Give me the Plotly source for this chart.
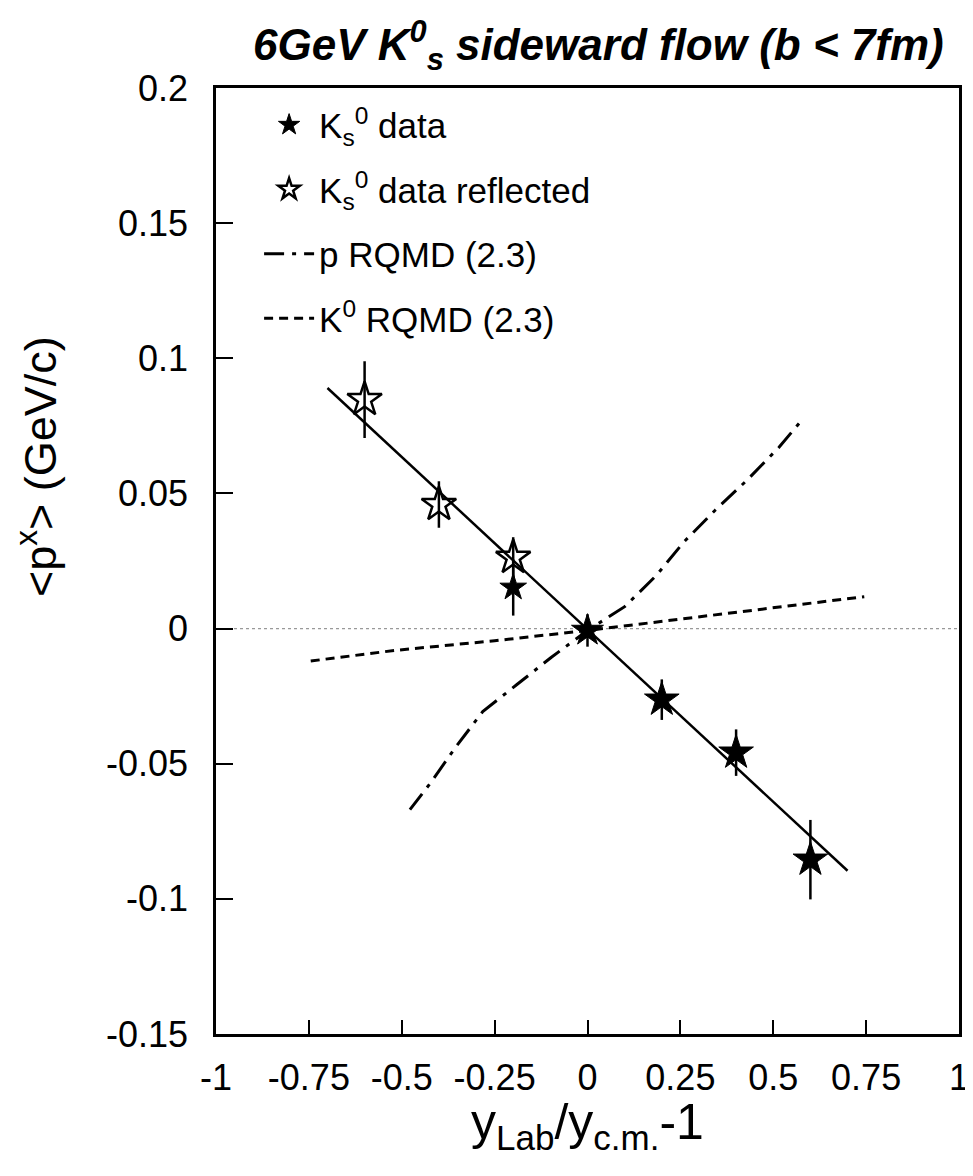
import plotly.graph_objects as go

# ---- data ----
data_x = [-0.2, 0.0, 0.2, 0.4, 0.6]
data_y = [0.0152, -0.0007, -0.0263, -0.0459, -0.0855]
data_err = [0.0104, 0.006, 0.0075, 0.0086, 0.0147]

refl_x = [-0.6, -0.4, -0.2]
refl_y = [0.0847, 0.0459, 0.0263]
refl_err = [0.0142, 0.0086, 0.0075]

fit_x = [-0.70, 0.70]
fit_y = [0.089, -0.0896]

p_x = [-0.478, -0.422, -0.354, -0.282, -0.19, -0.098, 0.0, 0.1, 0.185, 0.259, 0.343, 0.43, 0.515, 0.57]
p_y = [-0.067, -0.057, -0.0437, -0.0307, -0.0207, -0.0107, -0.0007, 0.0081, 0.0196, 0.032, 0.0437, 0.055, 0.067, 0.076]

k_x = [-0.745, -0.52, -0.25, 0.0, 0.25, 0.5, 0.745]
k_y = [-0.012, -0.0081, -0.0045, -0.0007, 0.0035, 0.0078, 0.0118]

x_ticks = [-1, -0.75, -0.5, -0.25, 0, 0.25, 0.5, 0.75, 1]
x_ticktext = ["-1", "-0.75", "-0.5", "-0.25", "0", "0.25", "0.5", "0.75", "1"]
y_ticks = [-0.15, -0.1, -0.05, 0, 0.05, 0.1, 0.15, 0.2]
y_ticktext = ["-0.15", "-0.1", "-0.05", "0", "0.05", "0.1", "0.15", "0.2"]

FONT = "Liberation Sans, Arial, Helvetica, sans-serif"

fig = go.Figure()

fig.add_trace(go.Scatter(
    x=data_x, y=data_y, mode="markers",
    name="K<sub>s</sub><sup>0</sup> data",
    marker=dict(symbol="star", size=[20, 24, 26, 26, 26], color="black", opacity=1,
                line=dict(width=1, color="black")),
    error_y=dict(type="data", array=data_err, width=0, thickness=2.5, color="black"),
    legendgroup="a",
))
fig.add_trace(go.Scatter(
    x=refl_x, y=refl_y, mode="markers",
    name="K<sub>s</sub><sup>0</sup> data reflected",
    marker=dict(symbol="star-open", size=26, color="black", opacity=1, line=dict(width=2.5, color="black")),
    error_y=dict(type="data", array=refl_err, width=0, thickness=2.5, color="black"),
    legendgroup="b",
))
fig.add_trace(go.Scatter(
    x=p_x, y=p_y, mode="lines", name="p RQMD (2.3)",
    line=dict(color="black", width=3, dash="20px,8px,4px,8px"),
    legendgroup="c",
))
fig.add_trace(go.Scatter(
    x=k_x, y=k_y, mode="lines", name="K<sup>0</sup> RQMD (2.3)",
    line=dict(color="black", width=3, dash="9px,6px"),
    legendgroup="d",
))
fig.add_trace(go.Scatter(
    x=fit_x, y=fit_y, mode="lines", showlegend=False,
    line=dict(color="black", width=2.5),
))

fig.add_hline(y=0, line=dict(color="#999999", width=1.2, dash="dot"), layer="below")

fig.update_xaxes(
    range=[-1, 1], tickvals=x_ticks, ticktext=x_ticktext,
    ticks="inside", ticklen=14, tickwidth=2, tickcolor="black",
    showline=True, linewidth=2.5, linecolor="black", mirror=True,
    showgrid=False, zeroline=False,
    tickfont=dict(family=FONT, size=36, color="black"),
    ticklabelstandoff=10, ticklabeloverflow="allow",
)
fig.update_yaxes(
    range=[-0.15, 0.2], tickvals=y_ticks, ticktext=y_ticktext,
    ticks="inside", ticklen=17, tickwidth=2, tickcolor="black",
    showline=True, linewidth=2.5, linecolor="black", mirror=True,
    showgrid=False, zeroline=False,
    tickfont=dict(family=FONT, size=36, color="black"),
    ticklabelstandoff=18,
)

fig.update_layout(
    width=973, height=1176,
    margin=dict(l=208, r=14, t=80, b=150),
    plot_bgcolor="white", paper_bgcolor="white",
    font=dict(family=FONT, color="black"),
    legend=dict(
        x=0.058, y=0.992, xanchor="left", yanchor="top",
        font=dict(family=FONT, size=35, color="black"),
        bgcolor="rgba(0,0,0,0)", borderwidth=0,
        tracegroupgap=16, traceorder="grouped", itemwidth=50,
    ),
    annotations=[
        dict(text="<b><i>6GeV K<sup>0</sup><sub>s</sub> sideward flow (b &lt; 7fm)</i></b>",
             xref="paper", yref="paper", x=0.515, y=1.045,
             xanchor="center", yanchor="middle", showarrow=False,
             font=dict(family=FONT, size=44, color="black")),
        dict(text="&lt;p<sup>x</sup>&gt; (GeV/c)",
             xref="paper", yref="paper", x=-0.24, y=0.6,
             xanchor="center", yanchor="middle", showarrow=False, textangle=-90,
             font=dict(family=FONT, size=45, color="black")),
        dict(text="y<sub>Lab</sub>/y<sub>c.m.</sub>-1",
             xref="paper", yref="paper", x=0.50, y=-0.097,
             xanchor="center", yanchor="middle", showarrow=False,
             font=dict(family=FONT, size=50, color="black")),
    ],
)

fig.write_html("out.html")
